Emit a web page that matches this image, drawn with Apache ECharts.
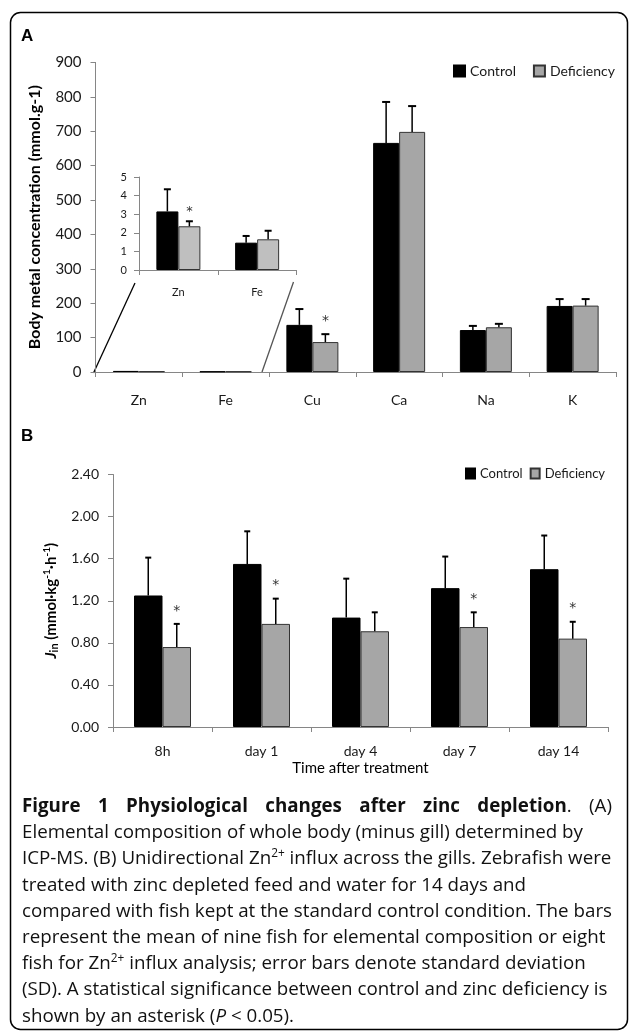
<!DOCTYPE html>
<html><head><meta charset="utf-8">
<script src="https://cdn.jsdelivr.net/npm/echarts@6/dist/echarts.min.js"></script>
<style>
html,body{margin:0;padding:0;background:#fff;}
#chart{position:absolute;left:0;top:0;width:629px;height:1033px;}
#caption{position:absolute;left:22px;top:792px;font-family:'Open Sans',sans-serif;font-size:19px;line-height:26.2px;color:#111;transform-origin:0 0;}
#caption div{white-space:nowrap;}
#caption .j{text-align:justify;text-align-last:justify;}
</style></head>
<body>
<div id="chart"></div>
<div id="caption">
<div class="j"><b>Figure 1 Physiological changes after zinc depletion</b>. (A)</div>
<div>Elemental composition of whole body (minus gill) determined by</div>
<div>ICP-MS. (B) Unidirectional Zn<sup style="font-size:12px;line-height:0">2+</sup> influx across the gills. Zebrafish were</div>
<div>treated with zinc depleted feed and water for 14 days and</div>
<div><span id="measure">compared with fish kept at the standard control condition. The bars</span></div>
<div>represent the mean of nine fish for elemental composition or eight</div>
<div>fish for Zn<sup style="font-size:12px;line-height:0">2+</sup> influx analysis; error bars denote standard deviation</div>
<div>(SD). A statistical significance between control and zinc deficiency is</div>
<div>shown by an asterisk (<i>P</i> &lt; 0.05).</div>
</div>
<script>
// ---------- Data ----------
const elementsA = ['Zn', 'Fe', 'Cu', 'Ca', 'Na', 'K'];
const controlA = [3.15, 1.47, 137, 666, 122, 192];
const controlSdA = [1.19, 0.36, 46, 119, 12, 20];
const deficiencyA = [2.35, 1.65, 87, 698, 130, 193];
const deficiencySdA = [0.27, 0.46, 23, 75, 10, 19];
const sigA = [1, 0, 1, 0, 0, 0];
const insetCount = 2; // Zn, Fe shown enlarged in the inset

const timesB = ['8h', 'day 1', 'day 4', 'day 7', 'day 14'];
const controlB = [1.25, 1.55, 1.04, 1.32, 1.50];
const controlSdB = [0.36, 0.31, 0.37, 0.30, 0.32];
const deficiencyB = [0.76, 0.98, 0.91, 0.95, 0.84];
const deficiencySdB = [0.22, 0.24, 0.18, 0.14, 0.16];
const sigB = [1, 1, 0, 1, 1];

const seriesNames = ['Control', 'Deficiency'];

// ---------- Layout ----------
const gA = {left: 95.5, top: 62.4, width: 520.5, height: 309.6};
const gI = {left: 139, top: 177, width: 157.5, height: 93};
const gB = {left: 113, top: 474.5, width: 495, height: 252.5};
const FONT = 'Lato';
const AX = '#868686';

function errData(mean, sd, sig) {
  return mean.map((m, i) => [i, m, m + sd[i], sig ? sig[i] : 0]);
}
function errRender(barW, side, capW, starSize, starGap) {
  return function (params, api) {
    const i = api.value(0);
    const p0 = api.coord([i, api.value(1)]);
    const p1 = api.coord([i, api.value(2)]);
    const x = p0[0] + side * barW / 2;
    const ch = [
      {type: 'line', shape: {x1: x, y1: p0[1], x2: x, y2: p1[1]}, style: {stroke: '#000', lineWidth: 1.5}},
      {type: 'line', shape: {x1: x - capW / 2, y1: p1[1], x2: x + capW / 2, y2: p1[1]}, style: {stroke: '#000', lineWidth: 2}}
    ];
    if (api.value(3)) {
      ch.push({type: 'text', style: {text: '*', x: x, y: p1[1] - starGap, align: 'center', verticalAlign: 'middle',
        fontSize: starSize, fill: '#333', fontFamily: 'DejaVu Sans'}});
    }
    return {type: 'group', children: ch};
  };
}
function barSeries(name, data, xi, yi, w, color, border) {
  return {type: 'bar', name: name, data: data, xAxisIndex: xi, yAxisIndex: yi, barWidth: w, barGap: '0%',
    itemStyle: {color: color, borderColor: border, borderWidth: 1}, emphasis: {disabled: true}, z: 2};
}
function errSeries(data, xi, yi, barW, side, capW, starSize, starGap) {
  return {type: 'custom', data: data, xAxisIndex: xi, yAxisIndex: yi, encode: {x: 0, y: [1, 2]},
    renderItem: errRender(barW, side, capW, starSize, starGap), z: 5, silent: true, clip: false};
}
function catAxis(gi, data, fs, margin, extra) {
  return Object.assign({type: 'category', gridIndex: gi, data: data,
    axisLine: {show: true, lineStyle: {color: AX, width: 1}},
    axisTick: {show: true, alignWithLabel: false, length: 5, lineStyle: {color: AX}},
    axisLabel: {fontFamily: FONT, fontSize: fs, color: '#1a1a1a', margin: margin, interval: 0},
    splitLine: {show: false}}, extra || {});
}
function valAxis(gi, min, max, interval, fs, margin, fmt, extra) {
  return Object.assign({type: 'value', gridIndex: gi, min: min, max: max, interval: interval,
    axisLine: {show: true, lineStyle: {color: AX, width: 1}},
    axisTick: {show: true, length: 5, lineStyle: {color: AX}},
    axisLabel: {fontFamily: FONT, fontSize: fs, color: '#1a1a1a', margin: margin, formatter: fmt},
    splitLine: {show: false}}, extra || {});
}

const chart = echarts.init(document.getElementById('chart'), null, {renderer: 'canvas'});
const option = {
  backgroundColor: '#fff',
  animation: false,
  grid: [
    Object.assign({outerBoundsMode: 'none'}, gA),
    Object.assign({outerBoundsMode: 'none'}, gI),
    Object.assign({outerBoundsMode: 'none'}, gB)
  ],
  legend: [
    {data: seriesNames, left: 453, top: 64, itemWidth: 11, itemHeight: 11, itemGap: 17, selectedMode: false, padding: 0,
      icon: 'rect', textStyle: {fontFamily: FONT, fontSize: 14, color: '#1a1a1a'}},
    {data: seriesNames, left: 465, top: 467, itemWidth: 9, itemHeight: 10, itemGap: 7, selectedMode: false, padding: 0,
      icon: 'rect', textStyle: {fontFamily: FONT, fontSize: 13, color: '#1a1a1a'}}
  ],
  xAxis: [
    catAxis(0, elementsA, 14, 21),
    catAxis(1, elementsA.slice(0, insetCount), 11, 17),
    catAxis(2, timesB, 14, 17, {name: 'Time after treatment', nameLocation: 'middle', nameGap: 34,
      nameTextStyle: {fontFamily: FONT, fontSize: 15, color: '#000'}})
  ],
  yAxis: [
    valAxis(0, 0, 900, 100, 15, 14, null, {name: 'Body metal concentration (mmol.g-1)', nameLocation: 'middle', nameGap: 53,
      nameTextStyle: {fontFamily: FONT, fontSize: 16, fontWeight: 'bold', color: '#000'}}),
    valAxis(1, 0, 5, 1, 11, 12, null),
    valAxis(2, 0, 2.4, 0.4, 14, 14, v => v.toFixed(2), {
      name: '{j|J}{s|in} (mmol·kg{p|-1}·h{p|-1})', nameLocation: 'middle', nameGap: 48,
      nameTextStyle: {fontFamily: FONT, fontSize: 15, fontWeight: 'bold', color: '#000', lineHeight: 19,
        rich: {
          j: {fontFamily: FONT, fontSize: 15, fontWeight: 'bold', fontStyle: 'italic', color: '#000', lineHeight: 19},
          s: {fontFamily: FONT, fontSize: 11, fontWeight: 'bold', color: '#000', verticalAlign: 'bottom', lineHeight: 14},
          p: {fontFamily: FONT, fontSize: 10, fontWeight: 'bold', color: '#000', verticalAlign: 'top', lineHeight: 12}
        }}})
  ],
  series: [
    barSeries(seriesNames[0], controlA, 0, 0, 26, '#000', '#000'),
    barSeries(seriesNames[1], deficiencyA, 0, 0, 26, '#a6a6a6', '#333'),
    barSeries(seriesNames[0], controlA.slice(0, insetCount), 1, 1, 22, '#000', '#000'),
    barSeries(seriesNames[1], deficiencyA.slice(0, insetCount), 1, 1, 22, '#bfbfbf', '#333'),
    barSeries(seriesNames[0], controlB, 2, 2, 28.5, '#000', '#000'),
    barSeries(seriesNames[1], deficiencyB, 2, 2, 28.5, '#a6a6a6', '#333'),
    errSeries(errData(controlA, controlSdA).slice(insetCount), 0, 0, 26, -1, 8, 14, 13),
    errSeries(errData(deficiencyA, deficiencySdA, sigA).slice(insetCount), 0, 0, 26, 1, 8, 14, 13),
    errSeries(errData(controlA.slice(0, insetCount), controlSdA.slice(0, insetCount)), 1, 1, 22, -1, 7, 13, 10),
    errSeries(errData(deficiencyA.slice(0, insetCount), deficiencySdA.slice(0, insetCount), sigA.slice(0, insetCount)), 1, 1, 22, 1, 7, 13, 10),
    errSeries(errData(controlB, controlSdB), 2, 2, 28.5, -1, 6, 14, 13),
    errSeries(errData(deficiencyB, deficiencySdB, sigB), 2, 2, 28.5, 1, 6, 14, 13)
  ],
  graphic: []
};
chart.setOption(option);

// frame, panel letters and the zoom connector lines of the inset
const catW = gA.width / elementsA.length;
const aBottom = gA.top + gA.height;
const iBottom = gI.top + gI.height;
chart.setOption({graphic: [
  {type: 'rect', silent: true, z: 0, shape: {x: 10.5, y: 12.5, width: 617, height: 1017, r: 10},
    style: {fill: null, stroke: '#000', lineWidth: 1.5}},
  {type: 'text', left: 21, top: 28, style: {text: 'A', font: 'bold 17px "Liberation Sans"', fill: '#000'}},
  {type: 'text', left: 21, top: 428, style: {text: 'B', font: 'bold 17px "Liberation Sans"', fill: '#000'}},
  {type: 'line', silent: true, shape: {x1: gA.left - 2, y1: aBottom + 1, x2: gI.left - 4, y2: iBottom + 13},
    style: {stroke: '#000', lineWidth: 1.3}},
  {type: 'line', silent: true, shape: {x1: gA.left + insetCount * catW - 7, y1: aBottom, x2: gI.left + gI.width - 3, y2: iBottom + 12},
    style: {stroke: '#555', lineWidth: 1.3}}
]});

// caption horizontal fit
const cap = document.getElementById('caption');
const w5 = document.getElementById('measure').getBoundingClientRect().width;
const s = 590 / w5;
cap.style.width = (590 / s) + 'px';
cap.style.transform = 'scaleX(' + s + ')';
</script>
</body></html>
